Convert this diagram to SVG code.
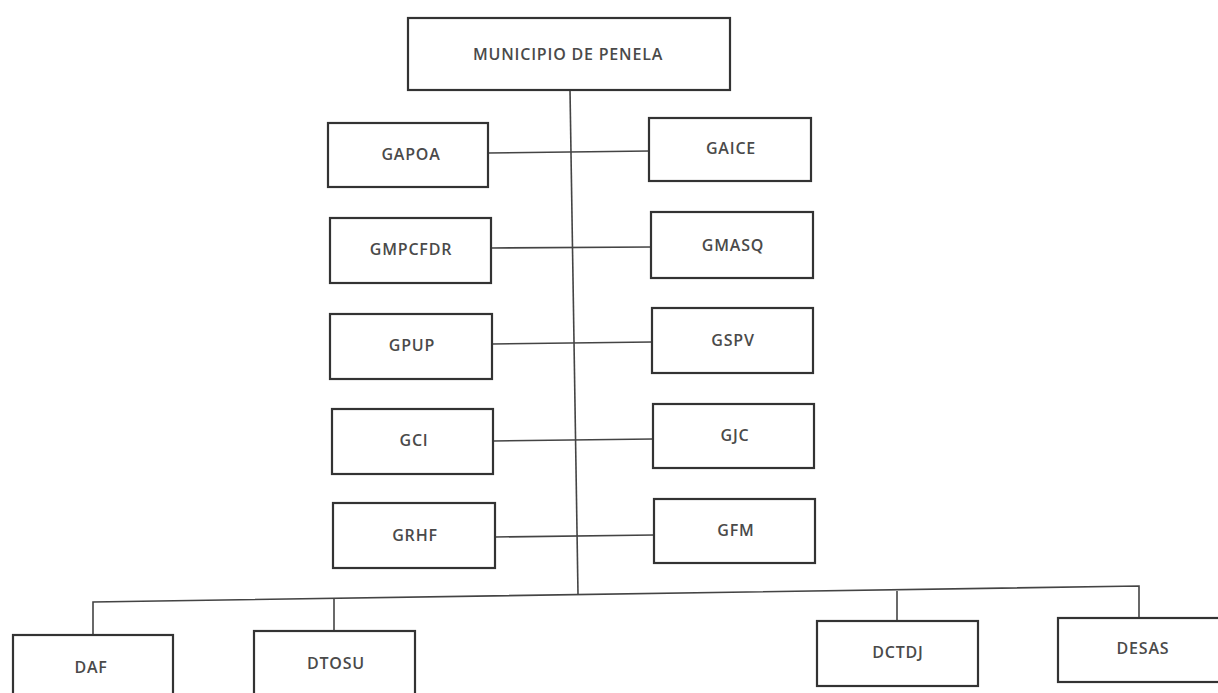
<svg xmlns="http://www.w3.org/2000/svg" width="1218" height="693" viewBox="0 0 1218 693">
<style>
.box{fill:#fff;stroke:#333;stroke-width:2.2}
.lbl{font-family:"Open Sans","DejaVu Sans",sans-serif;font-weight:600;font-size:16px;fill:#4a4a4a;text-anchor:middle;dominant-baseline:central;letter-spacing:0.8px}
.con{fill:none;stroke:#444;stroke-width:1.6}
</style>
<rect width="1218" height="693" fill="#fff"/>
<g id="connectors">
<polyline class="con" points="570,90 578,594"/>
<polyline class="con" points="93,635 93,602 1139,586 1139,618"/>
<line class="con" x1="334" y1="598" x2="334" y2="631"/>
<line class="con" x1="897" y1="591" x2="897" y2="621"/>
<line class="con" x1="488" y1="153" x2="650" y2="151"/>
<line class="con" x1="491" y1="248" x2="651" y2="247"/>
<line class="con" x1="492" y1="344" x2="652" y2="342"/>
<line class="con" x1="493" y1="441" x2="653" y2="439"/>
<line class="con" x1="495" y1="537" x2="654" y2="535"/>
</g>
<g id="municipio"><rect class="box" x="408" y="18" width="322" height="72"/><text class="lbl" x="568" y="54">MUNICIPIO DE PENELA</text></g>
<g id="gapoa"><rect class="box" x="328" y="123" width="160" height="64"/><text class="lbl" x="411" y="154">GAPOA</text></g>
<g id="gaice"><rect class="box" x="649" y="118" width="162" height="63"/><text class="lbl" x="731" y="148">GAICE</text></g>
<g id="gmpcfdr"><rect class="box" x="330" y="218" width="161" height="65"/><text class="lbl" x="411" y="249">GMPCFDR</text></g>
<g id="gmasq"><rect class="box" x="651" y="212" width="162" height="66"/><text class="lbl" x="733" y="245">GMASQ</text></g>
<g id="gpup"><rect class="box" x="330" y="314" width="162" height="65"/><text class="lbl" x="412" y="345">GPUP</text></g>
<g id="gspv"><rect class="box" x="652" y="308" width="161" height="65"/><text class="lbl" x="733" y="340">GSPV</text></g>
<g id="gci"><rect class="box" x="332" y="409" width="161" height="65"/><text class="lbl" x="414" y="440">GCI</text></g>
<g id="gjc"><rect class="box" x="653" y="404" width="161" height="64"/><text class="lbl" x="735" y="435">GJC</text></g>
<g id="grhf"><rect class="box" x="333" y="503" width="162" height="65"/><text class="lbl" x="415" y="535">GRHF</text></g>
<g id="gfm"><rect class="box" x="654" y="499" width="161" height="64"/><text class="lbl" x="736" y="530">GFM</text></g>
<g id="daf"><rect class="box" x="13" y="635" width="160" height="70"/><text class="lbl" x="91" y="667">DAF</text></g>
<g id="dtosu"><rect class="box" x="254" y="631" width="161" height="70"/><text class="lbl" x="336" y="663">DTOSU</text></g>
<g id="dctdj"><rect class="box" x="817" y="621" width="161" height="65"/><text class="lbl" x="898" y="652">DCTDJ</text></g>
<g id="desas"><rect class="box" x="1058" y="618" width="170" height="64"/><text class="lbl" x="1143" y="648">DESAS</text></g>
</svg>
